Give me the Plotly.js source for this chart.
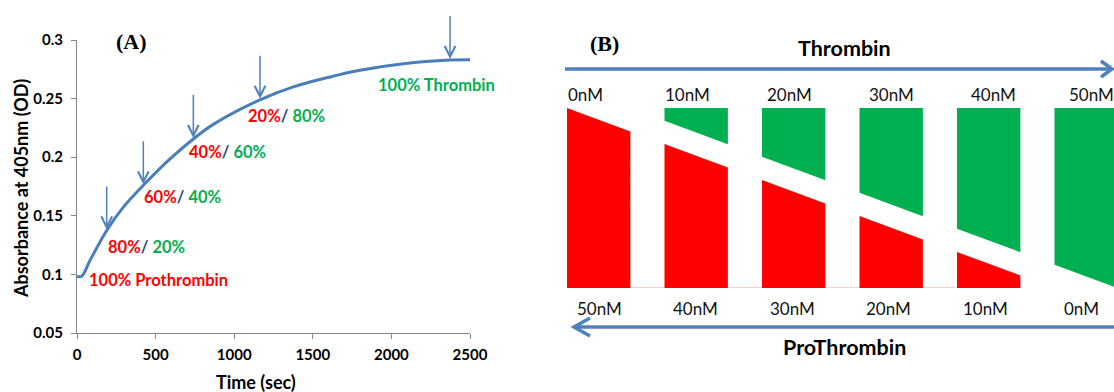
<!DOCTYPE html>
<html><head><meta charset="utf-8">
<script src="https://cdn.plot.ly/plotly-3.0.1.min.js"></script>
<style>html,body{margin:0;padding:0;background:#fff}#chart{width:1114px;height:392px}</style>
</head><body><div id="chart"></div>
<script>
// ---------- Panel A data ----------
const timeSec    = [0, 30, 83, 189, 295, 422, 592, 740, 867, 1164, 1376, 1609, 1800, 2076, 2373, 2500];
const absorbance = [0.0983, 0.0985, 0.112, 0.1375, 0.1574, 0.176, 0.1985, 0.2155, 0.2280, 0.2490, 0.2600, 0.2685, 0.2742, 0.2798, 0.2829, 0.2832];
const arrowTimes = [189, 422, 740, 1164, 2373];
const arrowAbs   = [0.1375, 0.176, 0.2155, 0.2490, 0.2829];
const prothrombinPct = [100, 80, 60, 40, 20, 0];
const thrombinPct    = [0, 20, 40, 60, 80, 100];
const labelTimes = [70, 189, 422, 708, 1080, 1907];
const labelAbs   = [0.0952, 0.1236, 0.1663, 0.2047, 0.2352, 0.2616];
const xTicks = [0, 500, 1000, 1500, 2000, 2500];
const yTicks = [0.05, 0.1, 0.15, 0.2, 0.25, 0.3];
const yTickText = ['0.05', '0.1', '0.15', '0.2', '0.25', '0.3'];

// ---------- Panel B data ----------
const thrombinNM    = [0, 10, 20, 30, 40, 50];
const prothrombinNM = [50, 40, 30, 20, 10, 0];

const W = 1114, H = 392;
const PX = x => x / W, PY = y => 1 - y / H;
const RED = '#FF0000', GREEN = '#00B050', BLUE = '#4F81BD', SLASH = '#1F497D';
const SANS = 'Lato, "Open Sans", sans-serif';

const traces = [];
traces.push({
  x: timeSec, y: absorbance, type: 'scatter', mode: 'lines',
  line: {color: '#4A7EBB', width: 3, shape: 'spline', smoothing: 1},
  hoverinfo: 'skip', xaxis: 'x', yaxis: 'y'
});

// Bars of panel B built from concentrations
const total = 50, bw = 6.5, gap = 6.45;
const rx = [], ry = [], gx = [], gy = [];
thrombinNM.forEach((T, i) => {
  const P = prothrombinNM[i];
  if (P > 0) {
    rx.push(T, T + bw, T + bw, T, T, null);
    ry.push(0, 0, Math.max(P - bw, 0), P, 0, null);
  }
  if (P < total) {
    gx.push(T, T + bw, T + bw, T, T, null);
    gy.push(total, total, P + gap - bw, Math.min(P + gap, total), total, null);
  }
});
traces.push({x: rx, y: ry, type: 'scatter', mode: 'lines', fill: 'toself', fillcolor: RED,
  line: {width: 0, color: RED}, hoverinfo: 'skip', xaxis: 'x2', yaxis: 'y2'});
traces.push({x: gx, y: gy, type: 'scatter', mode: 'lines', fill: 'toself', fillcolor: GREEN,
  line: {width: 0, color: GREEN}, hoverinfo: 'skip', xaxis: 'x2', yaxis: 'y2'});

const shapes = [];
// faint base line under the bars
shapes.push({type: 'line', xref: 'x2', yref: 'y2', x0: thrombinNM[0], x1: thrombinNM[4] + bw, y0: 0, y1: 0,
  line: {color: '#FF9A9A', width: 1}, layer: 'below'});
// big arrows panel B
const pth = pts => pts.map((p, i) => (i ? 'L' : 'M') + PX(p[0]) + ',' + PY(p[1])).join(' ');
shapes.push({type: 'path', xref: 'paper', yref: 'paper', path: pth([[565, 69], [1111, 69]]), line: {color: BLUE, width: 3.5}});
shapes.push({type: 'path', xref: 'paper', yref: 'paper', path: pth([[1101, 61], [1112, 69], [1101, 77]]), line: {color: BLUE, width: 3.5}});
shapes.push({type: 'path', xref: 'paper', yref: 'paper', path: pth([[575, 327], [1114, 327]]), line: {color: BLUE, width: 3.5}});
shapes.push({type: 'path', xref: 'paper', yref: 'paper', path: pth([[590, 318], [574, 327], [590, 336]]), line: {color: BLUE, width: 3.5}});

const ann = [];
// small arrows in panel A (annotation arrows, not clipped by the plot area)
arrowTimes.forEach((t, i) => {
  ann.push({xref: 'x', yref: 'y', x: t, y: arrowAbs[i], ax: 0, ay: -46, text: ' ', font: {size: 1},
    showarrow: true, arrowhead: 5, arrowsize: 1.4, arrowwidth: 1.5, arrowcolor: BLUE, standoff: 1});
});
const txt = (x, y, text, font, extra) => Object.assign({xref: 'paper', yref: 'paper', x: PX(x), y: PY(y), text,
  showarrow: false, xanchor: 'center', yanchor: 'middle', font}, extra || {});
ann.push(txt(131, 42, '(A)', {family: '"Liberation Serif", serif', size: 22, color: '#000', weight: 'bold'}));
ann.push(txt(604, 43, '(B)', {family: '"Liberation Serif", serif', size: 22, color: '#000', weight: 'bold'}));
ann.push(txt(844, 48, 'Thrombin', {family: SANS, size: 21.5, color: '#000', weight: 'bold'}));
ann.push(txt(844, 347, 'ProThrombin', {family: SANS, size: 21.5, color: '#000', weight: 'bold'}));
ann.push(txt(21, 189, 'Absorbance at 405nm (OD)', {family: SANS, size: 18, color: '#000', weight: 'bold'}, {textangle: -90}));
ann.push(txt(256, 382, 'Time (sec)', {family: SANS, size: 18, color: '#000', weight: 'bold'}));

// stage labels of panel A
prothrombinPct.forEach((p, i) => {
  const t = thrombinPct[i];
  let text;
  if (t === 0) text = `<span style="color:${RED}">${p}% Prothrombin</span>`;
  else if (p === 0) text = `<span style="color:${GREEN}">${t}% Thrombin</span>`;
  else text = `<span style="color:${RED}">${p}%</span><span style="color:${SLASH}">/</span><span style="color:${GREEN}"> ${t}%</span>`;
  ann.push({xref: 'x', yref: 'y', x: labelTimes[i], y: labelAbs[i], text, showarrow: false,
    xanchor: 'left', yanchor: 'middle', borderpad: 0,
    font: {family: SANS, size: 16.5, weight: 'bold', color: RED}});
});
// concentration labels of panel B
thrombinNM.forEach((c, k) => {
  ann.push(txt(Math.min(585 + 102 * k, 1091), 95, c + 'nM', {family: SANS, size: 17, color: '#111'}));
});
prothrombinNM.forEach((c, k) => {
  ann.push(txt(599 + 96.5 * k, 308, c + 'nM', {family: SANS, size: 17, color: '#111'}));
});

const tickFont = {family: SANS, size: 15, color: '#000', weight: 'bold'};
const layout = {
  width: W, height: H, margin: {l: 0, r: 0, t: 0, b: 0},
  paper_bgcolor: '#fff', plot_bgcolor: 'rgba(0,0,0,0)', showlegend: false,
  xaxis: {domain: [PX(77), PX(470)], range: [0, 2500], tickvals: xTicks, ticktext: xTicks.map(String),
    showline: true, linecolor: '#868686', linewidth: 1, ticks: 'outside', ticklen: 5, tickcolor: '#868686',
    showgrid: false, zeroline: false, tickfont: tickFont, ticklabelstandoff: 3, fixedrange: true, anchor: 'y'},
  yaxis: {domain: [PY(333), PY(40)], range: [0.05, 0.3], tickvals: yTicks, ticktext: yTickText,
    showline: true, linecolor: '#868686', linewidth: 1, ticks: 'outside', ticklen: 5, tickcolor: '#868686',
    showgrid: false, zeroline: false, tickfont: tickFont, ticklabelstandoff: 5, fixedrange: true, anchor: 'x'},
  xaxis2: {domain: [PX(550), 1], range: [-17 / 9.75, (W - 567) / 9.75], visible: false, fixedrange: true, anchor: 'y2'},
  yaxis2: {domain: [PY(288), PY(108)], range: [0, 50], visible: false, fixedrange: true, anchor: 'x2'},
  shapes, annotations: ann
};
Plotly.newPlot('chart', traces, layout, {displayModeBar: false, staticPlot: true});
</script></body></html>
